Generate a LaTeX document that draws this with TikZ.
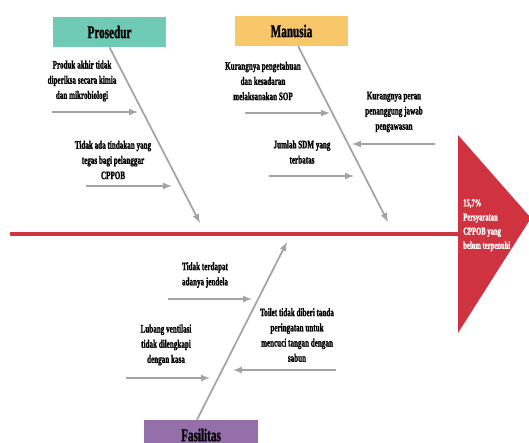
\documentclass[tikz,border=0pt]{standalone}
\usepackage{fontspec}
\setmainfont[FakeStretch=0.62,BoldFeatures={FakeBold=1.2}]{Liberation Serif}
\usetikzlibrary{positioning}
\definecolor{prosedurfill}{HTML}{6FCBB6}
\definecolor{manusiafill}{HTML}{F7C76A}
\definecolor{fasilitasfill}{HTML}{946FA8}
\definecolor{spinered}{HTML}{CF3340}
\definecolor{bonegray}{HTML}{A3A3A3}

\begin{document}
\begin{tikzpicture}[x=0.75pt,y=-0.75pt,
  cat/.style={rectangle,minimum width=85pt,minimum height=22.5pt,inner sep=0pt,
    font=\fontsize{13.5}{15}\selectfont\bfseries},
  cause/.style={align=center,inner sep=0pt,font=\fontsize{8.6}{11.4}\selectfont\bfseries},
  bone/.style={draw=bonegray,line width=1.3pt,-latex}]

  \clip (0,0) rectangle (529,443);

  % spine and head
  \fill[spinered] (458,135) -- (531,218) -- (458,333) -- cycle;
  \coordinate (tail) at (10,234);
  \coordinate (headin) at (459,234);
  \draw[spinered,line width=3.2pt] (tail) -- (headin);
  \node[align=left,anchor=north west,inner sep=0pt,text=white,
    font=\fontsize{8}{10.6}\selectfont\bfseries] (effect) at (463,199)
    {15,7\%\\Persyaratan\\CPPOB yang\\belum terpenuhi};

  % categories
  \node[cat,fill=prosedurfill] (pros) at (109.5,32) {Prosedur};
  \node[cat,fill=manusiafill] (manu) at (291.5,31) {Manusia};
  \node[cat,fill=fasilitasfill] (fasi) at (201,435) {Fasilitas};

  \coordinate (p0) at (200,223);
  \coordinate (m0) at (388,222);
  \coordinate (f0) at (287,242);
  \draw[bone] (pros.south) -- (p0);
  \draw[bone] ([xshift=5pt]manu.south) -- (m0);
  \draw[bone] ([xshift=-3pt]fasi.north) -- (f0);

  % Prosedur
  \node[cause] (p1) at (82,81) {Produk akhir tidak\\diperiksa secara kimia\\dan mikrobiologi};
  \coordinate (p1a) at (52,112);
  \coordinate (p1b) at (138,112);
  \draw[bone] (p1a) -- (p1b);
  \node[cause] (p2) at (113,160) {Tidak ada tindakan yang\\tegas bagi pelanggar\\CPPOB};
  \coordinate (p2a) at (86,186);
  \coordinate (p2b) at (172,186);
  \draw[bone] (p2a) -- (p2b);

  % Manusia
  \node[cause] (m1) at (263,81) {Kurangnya pengetahuan\\dan kesadaran\\melaksanakan SOP};
  \coordinate (m1a) at (245,113);
  \coordinate (m1b) at (330,113);
  \draw[bone] (m1a) -- (m1b);
  \node[cause] (m2) at (394,112) {Kurangnya peran\\penanggung jawab\\pengawasan};
  \coordinate (m2a) at (435,144);
  \coordinate (m2b) at (352,144);
  \draw[bone] (m2a) -- (m2b);
  \node[cause] (m3) at (302,152) {Jumlah SDM yang\\terbatas};
  \coordinate (m3a) at (269,176);
  \coordinate (m3b) at (354,176);
  \draw[bone] (m3a) -- (m3b);

  % Fasilitas
  \node[cause] (f1) at (205,275) {Tidak terdapat\\adanya jendela};
  \coordinate (f1a) at (168,299);
  \coordinate (f1b) at (252,299);
  \draw[bone] (f1a) -- (f1b);
  \node[cause] (f2) at (166,345) {Lubang ventilasi\\tidak dilengkapi\\dengan kasa};
  \coordinate (f2a) at (126,378);
  \coordinate (f2b) at (210,378);
  \draw[bone] (f2a) -- (f2b);
  \node[cause] (f3) at (297,335) {Toilet tidak diberi tanda\\peringatan untuk\\mencuci tangan dengan\\sabun};
  \coordinate (f3a) at (336,370);
  \coordinate (f3b) at (233,370);
  \draw[bone] (f3a) -- (f3b);

\end{tikzpicture}
\end{document}
